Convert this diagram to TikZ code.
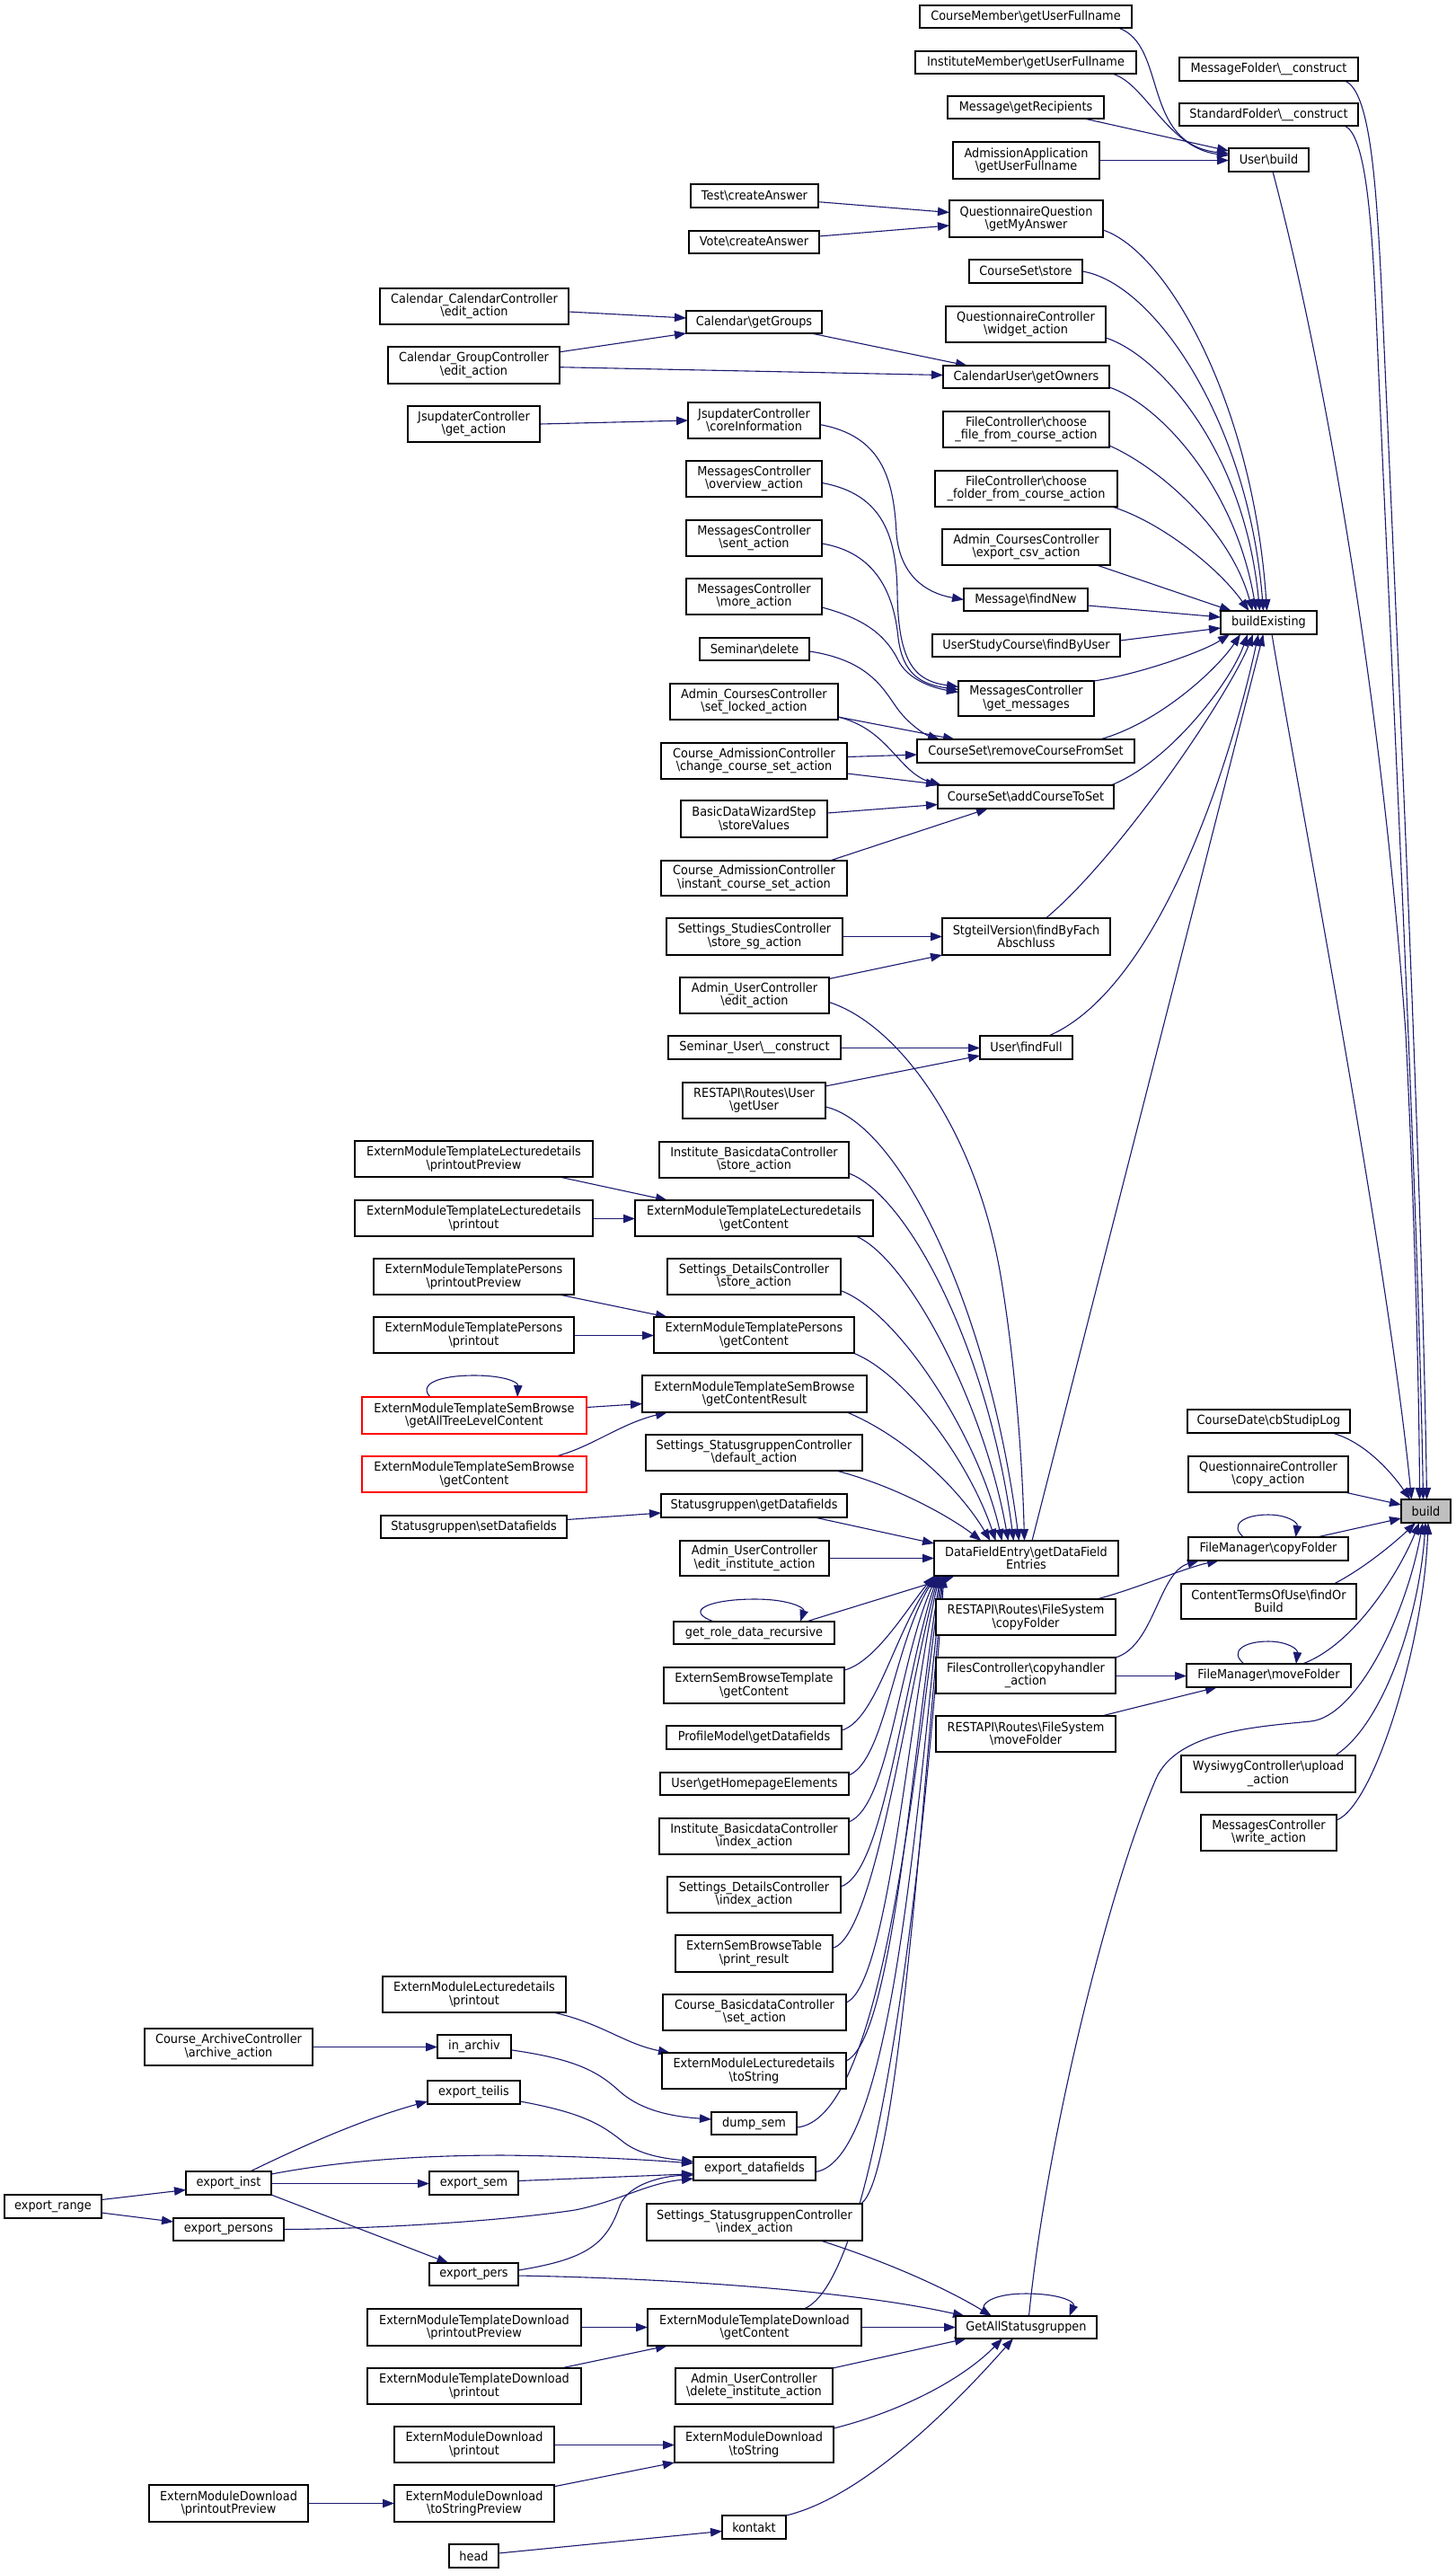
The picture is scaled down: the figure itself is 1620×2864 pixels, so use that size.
\documentclass[tikz,border=0pt]{standalone}
\usepackage{fontspec}
\setmainfont{DejaVu Sans}[FakeStretch=0.92]
\usetikzlibrary{arrows.meta}
\definecolor{navy}{HTML}{191970}
\pgfdeclarelayer{back}
\pgfdeclarelayer{edges}
\pgfsetlayers{back,edges,main}
\newcommand{\bsl}{\textbackslash}
\tikzset{
  nbox/.style={draw=black, fill=white, line width=1.1pt, inner sep=0pt, outer sep=0pt, align=center, font={\fontsize{14}{14.4}\selectfont\lineskiplimit=-50pt}},
  redbox/.style={draw=red},
  greybox/.style={fill=black!25},
  edg/.style={draw=navy, line width=1.1pt, -{Triangle[length=13pt,width=9.5pt]}},
}
\newcommand{\bx}[7][]{%
  \pgfmathsetmacro\bxw{#5-#3}%
  \pgfmathsetmacro\bxh{#6-#4}%
  \node[nbox,#1,minimum width=\bxw pt,minimum height=\bxh pt] (#2) at ({(#3+#5)/2},{(#4+#6)/2}) {#7};%
}
\begin{document}
\begin{tikzpicture}[x=1pt,y=-1pt]
\begin{pgfonlayer}{back}
\fill[white] (0,0) rectangle (1620,2864);
\end{pgfonlayer}
\useasboundingbox (0,0) rectangle (1620,2864);
% ---- nodes ----
\bx{cmf}{1024}{6}{1260}{31}{CourseMember\bsl getUserFullname}
\bx{imf}{1019}{57}{1265}{82}{InstituteMember\bsl getUserFullname}
\bx{mgr}{1055}{107}{1229}{132}{Message\bsl getRecipients}
\bx{aaf}{1061}{158}{1224}{199}{AdmissionApplication\\\bsl getUserFullname}
\bx{ubuild}{1368}{165}{1457}{191}{User\bsl build}
\bx{mfc}{1313}{64}{1512}{90}{MessageFolder\bsl\_\_construct}
\bx{sfc}{1313}{115}{1512}{140}{StandardFolder\bsl\_\_construct}
\bx{qqa}{1057}{223}{1228}{264}{QuestionnaireQuestion\\\bsl getMyAnswer}
\bx{tca}{769}{205}{911}{231}{Test\bsl createAnswer}
\bx{vca}{767}{257}{912}{282}{Vote\bsl createAnswer}
\bx{css}{1079}{289}{1205}{315}{CourseSet\bsl store}
\bx{qcw}{1053}{341}{1231}{381}{QuestionnaireController\\\bsl widget\_action}
\bx{ccc}{423}{321}{633}{361}{Calendar\_CalendarController\\\bsl edit\_action}
\bx{cgr}{764}{346}{915}{371}{Calendar\bsl getGroups}
\bx{cgc}{432}{386}{623}{427}{Calendar\_GroupController\\\bsl edit\_action}
\bx{cuo}{1050}{407}{1235}{432}{CalendarUser\bsl getOwners}
\bx{jga}{454}{452}{601}{492}{JsupdaterController\\\bsl get\_action}
\bx{jci}{766}{448}{913}{488}{JsupdaterController\\\bsl coreInformation}
\bx{fcf}{1050}{458}{1235}{498}{FileController\bsl choose\\\_file\_from\_course\_action}
\bx{fcd}{1041}{524}{1244}{564}{FileController\bsl choose\\\_folder\_from\_course\_action}
\bx{mov}{764}{513}{915}{553}{MessagesController\\\bsl overview\_action}
\bx{msa}{764}{579}{915}{619}{MessagesController\\\bsl sent\_action}
\bx{acc}{1049}{589}{1236}{629}{Admin\_CoursesController\\\bsl export\_csv\_action}
\bx{mma}{764}{644}{915}{684}{MessagesController\\\bsl more\_action}
\bx{mfn}{1073}{655}{1211}{680}{Message\bsl findNew}
\bx{bex}{1359}{680}{1466}{706}{buildExisting}
\bx{sdl}{779}{710}{901}{735}{Seminar\bsl delete}
\bx{usc}{1038}{706}{1247}{731}{UserStudyCourse\bsl findByUser}
\bx{mgm}{1067}{758}{1218}{797}{MessagesController\\\bsl get\_messages}
\bx{acl}{746}{761}{933}{801}{Admin\_CoursesController\\\bsl set\_locked\_action}
\bx{crs}{1021}{823}{1263}{849}{CourseSet\bsl removeCourseFromSet}
\bx{cac}{736}{827}{943}{867}{Course\_AdmissionController\\\bsl change\_course\_set\_action}
\bx{cat}{1044}{874}{1240}{900}{CourseSet\bsl addCourseToSet}
\bx{bdw}{758}{891}{921}{932}{BasicDataWizardStep\\\bsl storeValues}
\bx{cai}{736}{958}{943}{997}{Course\_AdmissionController\\\bsl instant\_course\_set\_action}
\bx{ssa}{742}{1022}{938}{1063}{Settings\_StudiesController\\\bsl store\_sg\_action}
\bx{sgv}{1049}{1022}{1236}{1063}{StgteilVersion\bsl findByFach\\Abschluss}
\bx{aue}{757}{1088}{923}{1128}{Admin\_UserController\\\bsl edit\_action}
\bx{suc}{744}{1153}{936}{1179}{Seminar\_User\bsl\_\_construct}
\bx{uff}{1091}{1153}{1194}{1179}{User\bsl findFull}
\bx{rug}{760}{1205}{919}{1245}{RESTAPI\bsl Routes\bsl User\\\bsl getUser}
\bx{emlp}{395}{1270}{660}{1310}{ExternModuleTemplateLecturedetails\\\bsl printoutPreview}
\bx{ibs}{734}{1271}{945}{1311}{Institute\_BasicdataController\\\bsl store\_action}
\bx{emlr}{395}{1336}{660}{1376}{ExternModuleTemplateLecturedetails\\\bsl printout}
\bx{emlg}{707}{1336}{972}{1376}{ExternModuleTemplateLecturedetails\\\bsl getContent}
\bx{empp}{416}{1401}{639}{1441}{ExternModuleTemplatePersons\\\bsl printoutPreview}
\bx{sds}{743}{1401}{936}{1441}{Settings\_DetailsController\\\bsl store\_action}
\bx{empr}{416}{1466}{639}{1506}{ExternModuleTemplatePersons\\\bsl printout}
\bx{empg}{728}{1466}{951}{1506}{ExternModuleTemplatePersons\\\bsl getContent}
\bx{esgr}{715}{1531}{965}{1572}{ExternModuleTemplateSemBrowse\\\bsl getContentResult}
\bx[redbox]{esal}{403}{1555}{653}{1596}{ExternModuleTemplateSemBrowse\\\bsl getAllTreeLevelContent}
\bx{ssd}{719}{1597}{960}{1637}{Settings\_StatusgruppenController\\\bsl default\_action}
\bx[redbox]{esgc}{403}{1621}{653}{1661}{ExternModuleTemplateSemBrowse\\\bsl getContent}
\bx{sgg}{736}{1663}{943}{1689}{Statusgruppen\bsl getDatafields}
\bx{sgs}{424}{1687}{631}{1712}{Statusgruppen\bsl setDatafields}
\bx{aui}{757}{1715}{923}{1754}{Admin\_UserController\\\bsl edit\_institute\_action}
\bx{dfe}{1040}{1715}{1245}{1754}{DataFieldEntry\bsl getDataField\\Entries}
\bx{grd}{750}{1805}{929}{1830}{get\_role\_data\_recursive}
\bx{rfc}{1042}{1780}{1242}{1820}{RESTAPI\bsl Routes\bsl FileSystem\\\bsl copyFolder}
\bx{esbt}{739}{1856}{940}{1896}{ExternSemBrowseTemplate\\\bsl getContent}
\bx{fch}{1042}{1845}{1242}{1885}{FilesController\bsl copyhandler\\\_action}
\bx{rfm}{1042}{1910}{1242}{1950}{RESTAPI\bsl Routes\bsl FileSystem\\\bsl moveFolder}
\bx{pmg}{742}{1921}{937}{1947}{ProfileModel\bsl getDatafields}
\bx{uhe}{735}{1973}{945}{1998}{User\bsl getHomepageElements}
\bx{ibi}{734}{2024}{945}{2064}{Institute\_BasicdataController\\\bsl index\_action}
\bx{sdi}{743}{2089}{936}{2129}{Settings\_DetailsController\\\bsl index\_action}
\bx{cdl}{1322}{1569}{1503}{1595}{CourseDate\bsl cbStudipLog}
\bx{qcc}{1323}{1621}{1501}{1661}{QuestionnaireController\\\bsl copy\_action}
\bx[greybox]{build}{1560}{1669}{1615}{1695}{build}
\bx{fmc}{1323}{1711}{1501}{1737}{FileManager\bsl copyFolder}
\bx{ctu}{1315}{1763}{1510}{1802}{ContentTermsOfUse\bsl findOr\\Build}
\bx{fmm}{1321}{1852}{1504}{1878}{FileManager\bsl moveFolder}
\bx{wua}{1315}{1954}{1509}{1995}{WysiwygController\bsl upload\\\_action}
\bx{mwa}{1337}{2020}{1488}{2060}{MessagesController\\\bsl write\_action}
\bx{esbp}{752}{2154}{927}{2195}{ExternSemBrowseTable\\\bsl print\_result}
\bx{emdp}{426}{2200}{630}{2240}{ExternModuleLecturedetails\\\bsl printout}
\bx{cbs}{738}{2220}{942}{2260}{Course\_BasicdataController\\\bsl set\_action}
\bx{cav}{161}{2258}{348}{2299}{Course\_ArchiveController\\\bsl archive\_action}
\bx{iav}{487}{2265}{569}{2291}{in\_archiv}
\bx{emdt}{737}{2285}{942}{2325}{ExternModuleLecturedetails\\\bsl toString}
\bx{ete}{476}{2316}{579}{2342}{export\_teilis}
\bx{dps}{792}{2351}{887}{2376}{dump\_sem}
\bx{edf}{772}{2401}{908}{2427}{export\_datafields}
\bx{ein}{207}{2417}{302}{2443}{export\_inst}
\bx{esm}{478}{2417}{577}{2443}{export\_sem}
\bx{erg}{5}{2443}{113}{2469}{export\_range}
\bx{ssi}{720}{2453}{960}{2494}{Settings\_StatusgruppenController\\\bsl index\_action}
\bx{eps}{193}{2469}{316}{2494}{export\_persons}
\bx{epr}{478}{2519}{577}{2544}{export\_pers}
\bx{etdp}{409}{2570}{647}{2611}{ExternModuleTemplateDownload\\\bsl printoutPreview}
\bx{etdg}{721}{2570}{959}{2611}{ExternModuleTemplateDownload\\\bsl getContent}
\bx{gas}{1064}{2578}{1221}{2603}{GetAllStatusgruppen}
\bx{etdr}{409}{2636}{647}{2676}{ExternModuleTemplateDownload\\\bsl printout}
\bx{aud}{752}{2636}{927}{2676}{Admin\_UserController\\\bsl delete\_institute\_action}
\bx{edr}{439}{2701}{617}{2741}{ExternModuleDownload\\\bsl printout}
\bx{edt}{751}{2701}{928}{2741}{ExternModuleDownload\\\bsl toString}
\bx{edpp}{166}{2766}{343}{2807}{ExternModuleDownload\\\bsl printoutPreview}
\bx{edsp}{439}{2766}{617}{2807}{ExternModuleDownload\\\bsl toStringPreview}
\bx{kon}{804}{2800}{875}{2826}{kontakt}
\bx{hed}{500}{2832}{555}{2858}{head}
% ---- edges ----
\begin{pgfonlayer}{edges}
% User\build
\draw[edg] ([xshift=-15pt]cmf.south east) .. controls (1300,50) and (1270,160) .. ([yshift=7pt]ubuild.west);
\draw[edg] ([xshift=-27pt]imf.south east) .. controls (1275,92) and (1300,165) .. ([yshift=5pt]ubuild.west);
\draw[edg] ([xshift=-22pt]mgr.south east) -- ([yshift=10pt]ubuild.west);
\draw[edg] (aaf.east) -- ([yshift=-0.5pt]ubuild.west);
% buildExisting
\draw[edg] ([yshift=-12.5pt]qqa.east) .. controls (1300,280) and (1395,450) .. ([xshift=-2pt]bex.north);
\draw[edg] (css.east) .. controls (1285,315) and (1390,470) .. ([xshift=-6pt]bex.north);
\draw[edg] ([yshift=5pt]qcw.south east) .. controls (1290,395) and (1385,500) .. ([xshift=-10pt]bex.north);
\draw[edg] ([yshift=1pt]cuo.south east) .. controls (1290,450) and (1375,540) .. ([xshift=-14pt]bex.north);
\draw[edg] ([yshift=2pt]fcf.south east) .. controls (1290,520) and (1370,590) .. ([xshift=-18pt]bex.north);
\draw[edg] ([xshift=-6pt]fcd.south east) .. controls (1290,580) and (1355,630) .. ([xshift=-22pt]bex.north);
\draw[edg] ([xshift=-15pt]acc.south east) -- ([xshift=12pt]bex.north west);
\draw[edg] ([yshift=-6.5pt]mfn.east) -- ([yshift=6pt]bex.west);
\draw[edg] ([yshift=5.5pt]usc.east) -- ([yshift=-6pt]bex.west);
\draw[edg] (mgm.north east) .. controls (1270,750) and (1340,725) .. ([xshift=10pt]bex.south west);
\draw[edg] ([xshift=-38.4pt]crs.north east) .. controls (1290,805) and (1355,745) .. ([xshift=22pt]bex.south west);
\draw[edg] ([xshift=-3.3pt]cat.north east) .. controls (1300,850) and (1370,760) .. ([xshift=30pt]bex.south west);
\draw[edg] ([xshift=22pt]sgv.north) .. controls (1250,950) and (1370,770) .. ([xshift=36pt]bex.south west);
\draw[edg] ([xshift=25pt]uff.north) .. controls (1290,1100) and (1370,850) .. ([xshift=42pt]bex.south west);
\draw[edg] ([xshift=6.5pt]dfe.north) -- ([xshift=-6pt]bex.south);
% build
\draw[edg] ([xshift=3.5pt]bex.south) .. controls (1445,880) and (1545,1400) .. ([xshift=-16pt]build.north);
\draw[edg] ([xshift=4.5pt]ubuild.south) .. controls (1480,430) and (1540,800) .. (1565,1150) .. controls (1575,1350) and (1580,1550) .. ([xshift=-7pt]build.north);
\draw[edg] ([xshift=-15pt]mfc.south east) .. controls (1525,100) and (1532,200) .. (1538,320) .. controls (1555,700) and (1583,1300) .. ([xshift=1pt]build.north);
\draw[edg] ([xshift=-15pt]sfc.south east) .. controls (1520,150) and (1527,240) .. (1532,350) .. controls (1548,720) and (1578,1300) .. ([xshift=-3pt]build.north);
\draw[edg] ([xshift=-20pt]cdl.south east) .. controls (1520,1605) and (1550,1640) .. ([xshift=10pt]build.north west);
\draw[edg] ([xshift=-4pt]qcc.south east) -- ([yshift=7pt]build.west);
\draw[edg] ([xshift=-35pt]fmc.north east) -- ([yshift=-8pt]build.west);
\draw[edg] ([xshift=-25pt]ctu.north east) .. controls (1520,1745) and (1555,1715) .. ([xshift=16pt]build.south west);
\draw[edg] ([xshift=37.5pt]fmm.north) .. controls (1510,1830) and (1560,1745) .. ([xshift=20pt]build.south west);
\draw[edg] ([xshift=3pt]gas.north) .. controls (1165,2380) and (1235,2100) .. (1287,1980) .. controls (1310,1927) and (1400,1922) .. (1459,1916) .. controls (1510,1911) and (1565,1800) .. ([xshift=24pt]build.south west);
\draw[edg] ([xshift=-22.6pt]wua.north east) .. controls (1540,1920) and (1580,1800) .. ([xshift=27pt]build.south west);
\draw[edg] ([yshift=14pt]mwa.east) .. controls (1530,2010) and (1585,1830) .. ([xshift=30pt]build.south west);
% FileManager
\draw[edg] ([xshift=-27.5pt]fmc.north) .. controls (1368,1697) and (1385,1686) .. (1412,1686) .. controls (1432,1686) and (1445,1694) .. ([xshift=30.5pt]fmc.north);
\draw[edg] ([xshift=-27.5pt]fmm.north) .. controls (1368,1838) and (1385,1827) .. (1412,1827) .. controls (1432,1827) and (1445,1835) .. ([xshift=30.5pt]fmm.north);
\draw[edg] ([xshift=-21pt]rfc.north east) .. controls (1260,1770) and (1320,1745) .. ([xshift=34pt]fmc.south west);
\draw[edg] (fch.north east) .. controls (1285,1832) and (1290,1750) .. ([xshift=12pt]fmc.south west);
\draw[edg] ([yshift=-0.5pt]fch.east) -- ([yshift=-0.5pt]fmm.west);
\draw[edg] ([xshift=-15.6pt]rfm.north east) -- ([xshift=34pt]fmm.south west);
% DataFieldEntry upper callers
\draw[edg] ([yshift=-7.5pt]aue.east) .. controls (1000,1140) and (1090,1260) .. (1116,1432) .. controls (1130,1520) and (1138,1620) .. ([xshift=-2pt]dfe.north);
\draw[edg] ([yshift=-7pt]rug.east) .. controls (1000,1250) and (1100,1450) .. ([xshift=-8pt]dfe.north);
\draw[edg] ([yshift=5pt]ibs.south east) .. controls (1010,1330) and (1100,1500) .. ([xshift=-14pt]dfe.north);
\draw[edg] ([xshift=-19pt]emlg.south east) .. controls (1010,1400) and (1095,1560) .. ([xshift=-20pt]dfe.north);
\draw[edg] ([yshift=4.4pt]sds.south east) .. controls (1000,1460) and (1090,1600) .. ([xshift=-27pt]dfe.north);
\draw[edg] ([xshift=-1pt]empg.south east) .. controls (1010,1530) and (1080,1630) .. ([xshift=-34pt]dfe.north);
\draw[edg] ([xshift=-22pt]esgr.south east) .. controls (1010,1600) and (1070,1660) .. ([xshift=-40pt]dfe.north);
\draw[edg] ([xshift=-29pt]ssd.south east) .. controls (1000,1655) and (1060,1690) .. ([xshift=-50pt]dfe.north);
\draw[edg] ([xshift=-36pt]sgg.south east) -- ([yshift=-3pt]dfe.north west);
\draw[edg] (aui.east) -- (dfe.west);
\draw[edg] ([xshift=58pt]grd.north) -- ([xshift=23pt]dfe.south west);
\draw[edg] ([xshift=-44.5pt]grd.north) .. controls (760,1793) and (790,1780) .. (840,1780) .. controls (880,1780) and (896,1790) .. ([xshift=51.5pt]grd.north);
% DataFieldEntry lower callers
\draw[edg] ([yshift=-3pt]esbt.north east) .. controls (975,1850) and (1010,1790) .. (dfe.south west);
\draw[edg] ([yshift=8pt]pmg.east) .. controls (975,1915) and (995,1820) .. ([xshift=1pt]dfe.south west);
\draw[edg] ([yshift=-3pt]uhe.north east) .. controls (985,1960) and (995,1830) .. ([xshift=2pt]dfe.south west);
\draw[edg] ([yshift=-4pt]ibi.north east) .. controls (990,2010) and (1000,1850) .. ([xshift=3pt]dfe.south west);
\draw[edg] ([yshift=9pt]sdi.east) .. controls (985,2085) and (1005,1870) .. ([xshift=4pt]dfe.south west);
\draw[edg] ([yshift=6pt]esbp.east) .. controls (975,2155) and (1010,1880) .. ([xshift=5pt]dfe.south west);
\draw[edg] ([yshift=11pt]cbs.east) .. controls (990,2210) and (1012,1900) .. ([xshift=6pt]dfe.south west);
\draw[edg] ([yshift=11pt]emdt.east) .. controls (995,2270) and (1015,1950) .. ([xshift=7pt]dfe.south west);
\draw[edg] ([yshift=-4.5pt]dps.east) .. controls (980,2360) and (1015,2000) .. ([xshift=8pt]dfe.south west);
\draw[edg] ([yshift=-3.5pt]edf.east) .. controls (990,2405) and (1018,2050) .. ([xshift=9pt]dfe.south west);
\draw[edg] ([xshift=-1.6pt]ssi.north east) .. controls (995,2430) and (1020,2100) .. ([xshift=10pt]dfe.south west);
\draw[edg] ([xshift=-64pt]etdg.north east) .. controls (970,2540) and (1022,2150) .. ([xshift=11pt]dfe.south west);
% upper left
\draw[edg] ([yshift=-6.7pt]tca.east) -- ([yshift=7pt]qqa.west);
\draw[edg] ([yshift=6.5pt]vca.east) -- ([yshift=-7.5pt]qqa.west);
\draw[edg] ([yshift=-6pt]ccc.east) -- ([yshift=4.5pt]cgr.west);
\draw[edg] ([yshift=-5.8pt]cgc.north east) -- (cgr.south west);
\draw[edg] ([yshift=-2.2pt]cgc.east) -- ([yshift=2pt]cuo.west);
\draw[edg] ([xshift=-12pt]cgr.south east) -- ([xshift=27pt]cuo.north west);
\draw[edg] (jga.east) -- (jci.west);
\draw[edg] ([yshift=-4.6pt]jci.east) .. controls (980,485) and (995,530) .. (998,594) .. controls (1002,640) and (1030,660) .. (mfn.west);
\draw[edg] ([yshift=-4.5pt]mov.east) .. controls (985,550) and (998,600) .. (999,660) .. controls (1000,740) and (1020,758) .. ([yshift=13pt]mgm.west);
\draw[edg] ([yshift=-6pt]msa.east) .. controls (975,615) and (995,660) .. (1000,710) .. controls (1005,750) and (1025,762) .. ([yshift=10pt]mgm.west);
\draw[edg] ([yshift=-12pt]mma.east) .. controls (960,688) and (985,705) .. (1000,735) .. controls (1010,755) and (1035,765) .. ([yshift=7pt]mgm.west);
\draw[edg] ([yshift=-2.5pt]sdl.east) .. controls (970,735) and (985,770) .. (1000,790) .. controls (1012,806) and (1030,818) .. ([xshift=25pt]crs.north west);
\draw[edg] ([yshift=3pt]acl.south east) -- ([xshift=42pt]crs.north west);
\draw[edg] ([yshift=3pt]acl.south east) .. controls (990,812) and (1000,860) .. ([xshift=4pt]cat.north west);
\draw[edg] ([yshift=4.5pt]cac.east) -- ([yshift=-4pt]crs.west);
\draw[edg] ([yshift=-14pt]cac.east) -- ([yshift=14pt]cat.west);
\draw[edg] ([yshift=6.5pt]bdw.east) -- ([yshift=-8.5pt]cat.west);
\draw[edg] ([xshift=-19pt]cai.north east) -- ([xshift=56pt]cat.south west);
\draw[edg] (ssa.east) -- (sgv.west);
\draw[edg] ([yshift=-1.5pt]aue.north east) -- (sgv.south west);
\draw[edg] ([yshift=-0.5pt]suc.east) -- ([yshift=-0.5pt]uff.west);
\draw[edg] ([yshift=-4pt]rug.north east) -- ([yshift=-9pt]uff.west);
% extern templates
\draw[edg] ([xshift=-37.4pt]emlp.south east) -- ([xshift=36pt]emlg.north west);
\draw[edg] ([yshift=-0.5pt]emlr.east) -- ([yshift=-0.5pt]emlg.west);
\draw[edg] ([xshift=-16.6pt]empp.south east) -- ([xshift=15pt]empg.north west);
\draw[edg] ([yshift=-0.5pt]empr.east) -- ([yshift=-0.5pt]empg.west);
\draw[edg] ([yshift=9pt]esal.east) -- ([yshift=-11pt]esgr.west);
\draw[edg] ([xshift=-34pt]esgc.north east) .. controls (660,1610) and (690,1585) .. ([xshift=28pt]esgr.south west);
\draw[edg] ([xshift=-49pt]esal.north) .. controls (465,1540) and (490,1531) .. (528,1531) .. controls (560,1531) and (577,1538) .. ([xshift=48pt]esal.north);
\draw[edg] ([yshift=8pt]sgs.east) -- ([yshift=-8pt]sgg.west);
% lower section
\draw[edg] ([xshift=-14pt]emdp.south east) .. controls (670,2252) and (695,2275) .. ([xshift=9pt]emdt.north west);
\draw[edg] (cav.east) -- ([yshift=-0.5pt]iav.west);
\draw[edg] ([yshift=-3.8pt]iav.east) .. controls (640,2292) and (665,2305) .. (690,2328) .. controls (715,2350) and (750,2356) .. ([yshift=4.5pt]dps.west);
\draw[edg] ([yshift=-10pt]ete.east) .. controls (650,2352) and (670,2365) .. (695,2385) .. controls (715,2400) and (745,2403) .. ([yshift=8pt]edf.west);
\draw[edg] ([yshift=10pt]ein.east) .. controls (380,2405) and (470,2399) .. (560,2399) .. controls (650,2400) and (720,2404) .. ([yshift=6pt]edf.west);
\draw[edg] ([yshift=2.5pt]esm.east) -- ([yshift=-5.7pt]edf.west);
\draw[edg] (eps.east) .. controls (420,2481) and (560,2472) .. (640,2460) .. controls (690,2450) and (720,2430) .. ([yshift=-11pt]edf.west);
\draw[edg] ([yshift=4.5pt]epr.east) .. controls (650,2515) and (675,2500) .. (690,2455) .. controls (700,2430) and (740,2422) .. ([yshift=-7pt]edf.west);
\draw[edg] ([xshift=24pt]ein.north) .. controls (330,2392) and (400,2360) .. ([yshift=3pt]ete.south west);
\draw[edg] ([yshift=-0.5pt]ein.east) -- ([yshift=-0.5pt]esm.west);
\draw[edg] (ein.south east) -- ([xshift=21.4pt]epr.north west);
\draw[edg] ([yshift=7.5pt]erg.east) -- ([yshift=-7.5pt]ein.west);
\draw[edg] ([yshift=-7pt]erg.east) -- ([yshift=8.5pt]eps.west);
% GetAllStatusgruppen
\draw[edg] ([xshift=-46.4pt]ssi.south east) .. controls (980,2515) and (1050,2545) .. ([xshift=40pt]gas.north west);
\draw[edg] ([yshift=-1.5pt]epr.east) .. controls (750,2536) and (950,2550) .. ([xshift=10pt]gas.north west);
\draw[edg] (etdg.east) -- (gas.west);
\draw[edg] (aud.north east) -- ([xshift=12pt]gas.south west);
\draw[edg] ([yshift=-2pt]edt.north east) .. controls (1000,2685) and (1070,2650) .. ([xshift=52pt]gas.south west);
\draw[edg] (kon.north east) .. controls (960,2780) and (1060,2680) .. ([xshift=64pt]gas.south west);
\draw[edg] ([xshift=-42pt]gas.north) .. controls (1085,2568) and (1100,2553) .. (1142,2553) .. controls (1180,2553) and (1197,2562) .. ([xshift=48pt]gas.north);
\draw[edg] (etdp.east) -- (etdg.west);
\draw[edg] ([xshift=-22.6pt]etdr.north east) -- ([xshift=22pt]etdg.south west);
\draw[edg] ([yshift=-0.5pt]edr.east) -- ([yshift=-0.5pt]edt.west);
\draw[edg] ([yshift=-1.7pt]edsp.north east) -- (edt.south west);
\draw[edg] (edpp.east) -- (edsp.west);
\draw[edg] ([yshift=3pt]hed.east) -- ([yshift=-4.4pt]kon.west);
\end{pgfonlayer}
\end{tikzpicture}
\end{document}
